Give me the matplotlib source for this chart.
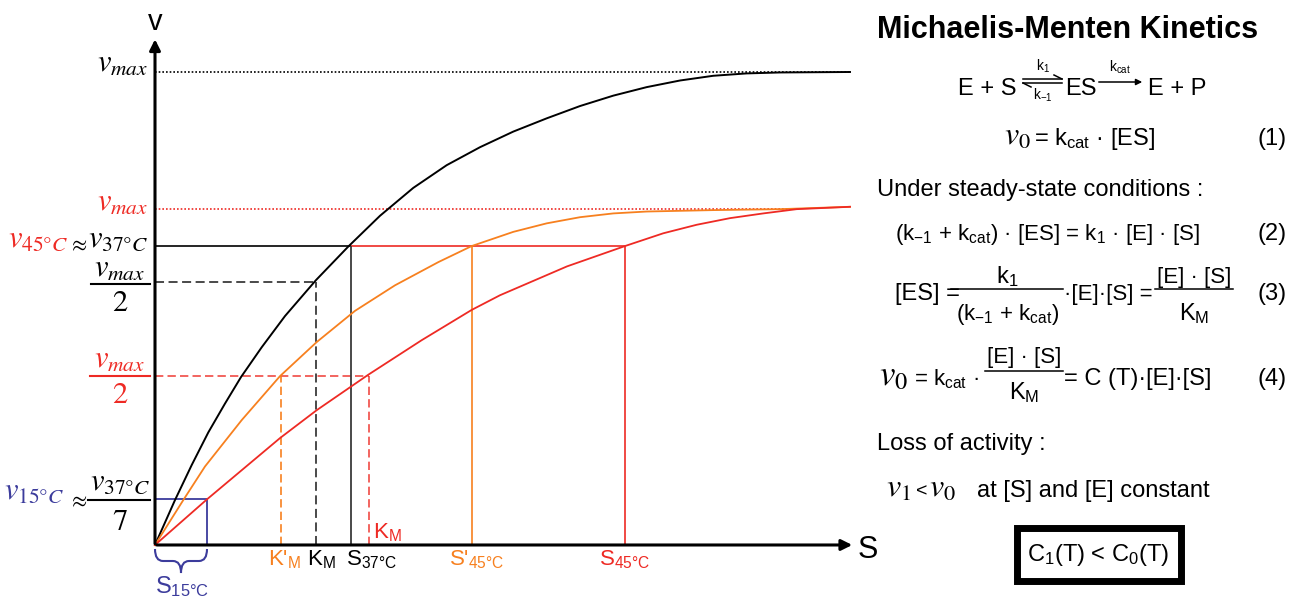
import numpy as np
import matplotlib.pyplot as plt
from matplotlib.path import Path
from matplotlib.patches import PathPatch, Rectangle

plt.rcParams['font.family'] = ['Liberation Sans', 'DejaVu Sans']
plt.rcParams['mathtext.fontset'] = 'custom'
plt.rcParams['mathtext.rm'] = 'Liberation Sans'
plt.rcParams['mathtext.it'] = 'Liberation Sans:italic'
plt.rcParams['mathtext.bf'] = 'Liberation Sans:bold'

# Substrate S (arbitrary units) and rate v (% of vmax at 37 C)
s_37 = [0, 0.2, 0.367, 0.533, 0.70, 0.86, 1.067, 1.30, 1.61, 1.933, 2.25, 2.583, 2.917,
        3.25, 3.583, 3.917, 4.25, 4.583, 4.917, 5.25, 5.583, 5.917, 6.25, 6.95]
v_37 = [0, 9.5, 16.9, 23.8, 29.9, 35.5, 41.8, 48.4, 56.0, 63.1, 69.6, 75.5, 80.3,
        84.1, 87.4, 90.2, 92.8, 95.0, 96.8, 98.2, 99.2, 99.7, 99.9, 100]

s_45b = [0, 0.283, 0.50, 0.867, 1.25, 1.617, 2.0, 2.4, 2.833, 3.167, 3.583, 3.917,
         4.25, 4.583, 4.917, 5.583, 6.25, 6.95]
v_45b = [0, 9.5, 16.6, 26.4, 35.7, 42.9, 49.5, 54.9, 59.8, 63.2, 66.2, 68.0,
         69.3, 70.1, 70.5, 70.8, 71.0, 71.5]

s_45 = [0, 0.517, 1.25, 1.617, 2.133, 2.667, 3.167, 3.45, 4.12, 4.70, 5.083, 5.417,
        5.75, 6.083, 6.417, 6.95]
v_45 = [0, 9.6, 22.6, 28.5, 36.0, 43.3, 49.7, 52.8, 58.9, 63.2, 65.9, 67.7,
        69.1, 70.1, 71.0, 71.5]

# reference levels
vmax_37 = 100
vmax_45 = 71.0
v_ref = 63.2
half_37 = 55.6
half_45 = 35.7
v_15 = 9.7

# reference substrate positions
s_15 = 0.52
km_prime = 1.26
km_37 = 1.61
s_ref_37 = 1.96
km_45 = 2.14
s_prime_45 = 3.17
s_ref_45 = 4.70

black = '#000000'
orange = '#f7801f'
red = '#ee2a24'
blue = '#3c3c9c'
grey = '#3a3a3a'

fig = plt.figure(figsize=(12.98, 5.99), dpi=100)

ax = fig.add_axes([0, 0, 880 / 1298, 1])
ax.set_xlim(-1.55, 7.25)
ax.set_ylim(-11.42, 115.22)
ax.axis('off')

dot = (0, (1, 1.2))
dash = (0, (5, 2.5))

ax.hlines(vmax_37, 0, 6.95, colors=black, linestyles=dot, lw=1.2)
ax.hlines(vmax_45, 0, 6.45, colors=red, linestyles=dot, lw=1.2)
ax.hlines(v_ref, 0, s_ref_37, colors=black, lw=1.2)
ax.hlines(v_ref, s_ref_37, s_ref_45, colors=red, lw=1.2)
ax.hlines(half_37, 0, km_37, colors=grey, linestyles=dash, lw=1.3)
ax.hlines(half_45, 0, km_45, colors=red, linestyles=dash, lw=1.2, alpha=0.85)

ax.vlines(km_prime, 0, half_45, colors=orange, linestyles=dash, lw=1.2)
ax.vlines(km_37, 0, half_37, colors=grey, linestyles=dash, lw=1.3)
ax.vlines(s_ref_37, 0, v_ref, colors=grey, lw=1.3)
ax.vlines(km_45, 0, half_45, colors=red, linestyles=dash, lw=1.2, alpha=0.85)
ax.vlines(s_prime_45, 0, v_ref, colors=orange, lw=1.2)
ax.vlines(s_ref_45, 0, v_ref, colors=red, lw=1.2)

ax.plot([0, s_15, s_15], [v_15, v_15, 0], color=blue, lw=1.3)

ax.plot(s_37, v_37, color=black, lw=1.4, solid_joinstyle='round')
ax.plot(s_45b, v_45b, color=orange, lw=1.3, solid_joinstyle='round')
ax.plot(s_45, v_45, color=red, lw=1.3, solid_joinstyle='round')

# axes with arrow heads
ax.annotate('', xy=(0, 107.5), xytext=(0, -0.3),
            arrowprops=dict(arrowstyle='-|>', lw=2.2, color=black, mutation_scale=16))
ax.annotate('', xy=(7.0, 0), xytext=(-0.01, 0),
            arrowprops=dict(arrowstyle='-|>', lw=2.2, color=black, mutation_scale=16))

# pixel overlay for labels and the text panel
px = fig.add_axes([0, 0, 1, 1])
px.set_xlim(0, 1298)
px.set_ylim(599, 0)
px.axis('off')
px.patch.set_alpha(0)

px.text(155, 30, 'v', ha='center', va='baseline', fontsize=21)
px.text(858, 558, 'S', ha='left', va='baseline', fontsize=22)

mfs = 22
def mtext(x, y, s, color=black, ha='right', size=mfs):
    px.text(x, y, s, ha=ha, va='baseline', fontsize=size, color=color, math_fontfamily='stix')

mtext(148, 72, r'$v_{max}$')
mtext(148, 211, r'$v_{max}$', color=red)
mtext(148, 247, r'$v_{37°C}$')
mtext(87, 251, r'$\approx$', size=16)
mtext(68, 247, r'$v_{45°C}$', color=red)

mtext(120, 277, r'$v_{max}$', ha='center')
px.plot([91, 150], [284, 284], color=black, lw=1.5)
mtext(120, 311, r'$2$', ha='center')

mtext(120, 368, r'$v_{max}$', color=red, ha='center')
px.plot([90, 150], [376, 376], color=red, lw=1.5)
mtext(120, 403, r'$2$', color=red, ha='center')

mtext(120, 490, r'$v_{37°C}$', ha='center')
px.plot([88, 150], [500, 500], color=black, lw=1.5)
mtext(120, 530, r'$7$', ha='center')
mtext(87, 507, r'$\approx$', size=16)
mtext(64, 499, r'$v_{15°C}$', color=blue)

# x-axis labels
xfs = 16
px.text(268, 565, "K'$_\\mathrm{M}$", color=orange, fontsize=xfs, va='baseline')
px.text(307, 565, "K$_\\mathrm{M}$", color=black, fontsize=xfs, va='baseline')
px.text(346, 565, "S$_\\mathrm{37°C}$", color=black, fontsize=xfs, va='baseline')
px.text(373, 538, "K$_\\mathrm{M}$", color=red, fontsize=xfs, va='baseline')
px.text(449, 565, "S'$_\\mathrm{45°C}$", color=orange, fontsize=xfs, va='baseline')
px.text(599, 565, "S$_\\mathrm{45°C}$", color=red, fontsize=xfs, va='baseline')
px.text(155, 593, "S$_\\mathrm{15°C}$", color=blue, fontsize=17, va='baseline')

brace = Path([(155, 549), (155, 561), (163, 561), (173, 561), (181, 561), (181, 573),
              (181, 561), (189, 561), (199, 561), (207, 561), (207, 549)],
             [Path.MOVETO, Path.CURVE3, Path.CURVE3, Path.LINETO, Path.CURVE3, Path.CURVE3,
              Path.CURVE3, Path.CURVE3, Path.LINETO, Path.CURVE3, Path.CURVE3])
px.add_patch(PathPatch(brace, fill=False, edgecolor=blue, lw=1.5))

# right text panel
tfs = 17
efs = 16
px.text(877, 38, 'Michaelis-Menten Kinetics', fontsize=22, fontweight='bold', va='baseline')

px.text(958, 95, 'E + S', fontsize=tfs, va='baseline')
px.plot([1023, 1062], [79, 79], color=black, lw=1.1)
px.plot([1062, 1054], [79, 75], color=black, lw=1.1)
px.plot([1023, 1062], [83, 83], color=black, lw=1.1)
px.plot([1023, 1031], [83, 87], color=black, lw=1.1)
px.text(1043, 71, 'k$_1$', fontsize=10, ha='center', va='baseline')
px.text(1043, 100, 'k$_{-1}$', fontsize=10, ha='center', va='baseline')
px.text(1065, 95, 'ES', fontsize=tfs, va='baseline')
px.annotate('', xy=(1145, 82), xytext=(1096, 82),
            arrowprops=dict(arrowstyle='-|>', lw=1.1, color=black, mutation_scale=9))
px.text(1120, 72, 'k$_\\mathrm{cat}$', fontsize=10, ha='center', va='baseline')
px.text(1148, 95, 'E + P', fontsize=tfs, va='baseline')

mtext(1004, 145, r'$v_0$', ha='left', size=23)
px.text(1034, 145, '= k$_\\mathrm{cat}$ · [ES]', fontsize=tfs, va='baseline')
px.text(1287, 145, '(1)', fontsize=tfs, ha='right', va='baseline')

px.text(877, 196, 'Under steady-state conditions :', fontsize=tfs, va='baseline')

px.text(895, 240, '(k$_{-1}$ + k$_\\mathrm{cat}$) · [ES] = k$_1$ · [E] · [S]', fontsize=efs, va='baseline')
px.text(1287, 240, '(2)', fontsize=tfs, ha='right', va='baseline')

px.text(895, 300, '[ES] =', fontsize=tfs, va='baseline')
px.plot([951, 1063], [289, 289], color=black, lw=1.1)
px.text(1007, 283, 'k$_1$', fontsize=tfs, ha='center', va='baseline')
px.text(1008, 320, '(k$_{-1}$ + k$_\\mathrm{cat}$)', fontsize=efs, ha='center', va='baseline')
px.text(1064, 300, '·[E]·[S] =', fontsize=efs, va='baseline')
px.plot([1155, 1233], [289, 289], color=black, lw=1.1)
px.text(1194, 283, '[E] · [S]', fontsize=efs, ha='center', va='baseline')
px.text(1194, 320, 'K$_\\mathrm{M}$', fontsize=tfs, ha='center', va='baseline')
px.text(1287, 300, '(3)', fontsize=tfs, ha='right', va='baseline')

mtext(879, 385, r'$v_0$', ha='left', size=25)
px.text(914, 385, '= k$_\\mathrm{cat}$ ·', fontsize=efs, va='baseline')
px.plot([985, 1063], [371, 371], color=black, lw=1.1)
px.text(1024, 363, '[E] · [S]', fontsize=efs, ha='center', va='baseline')
px.text(1024, 399, 'K$_\\mathrm{M}$', fontsize=tfs, ha='center', va='baseline')
px.text(1064, 385, '= C (T)·[E]·[S]', fontsize=tfs, va='baseline')
px.text(1287, 385, '(4)', fontsize=tfs, ha='right', va='baseline')

px.text(877, 450, 'Loss of activity :', fontsize=tfs, va='baseline')
mtext(886, 497, r'$v_1$', ha='left', size=23)
px.text(916, 496, '<', fontsize=14, va='baseline')
mtext(929, 497, r'$v_0$', ha='left', size=23)
px.text(977, 497, 'at [S] and [E] constant', fontsize=tfs, va='baseline')

px.add_patch(Rectangle((1017, 528), 164, 53, fill=False, edgecolor=black, lw=5))
px.text(1098, 555, 'C$_1$(T) < C$_0$(T)', fontsize=tfs, ha='center', va='center')

fig.savefig('out.png', dpi=100)
